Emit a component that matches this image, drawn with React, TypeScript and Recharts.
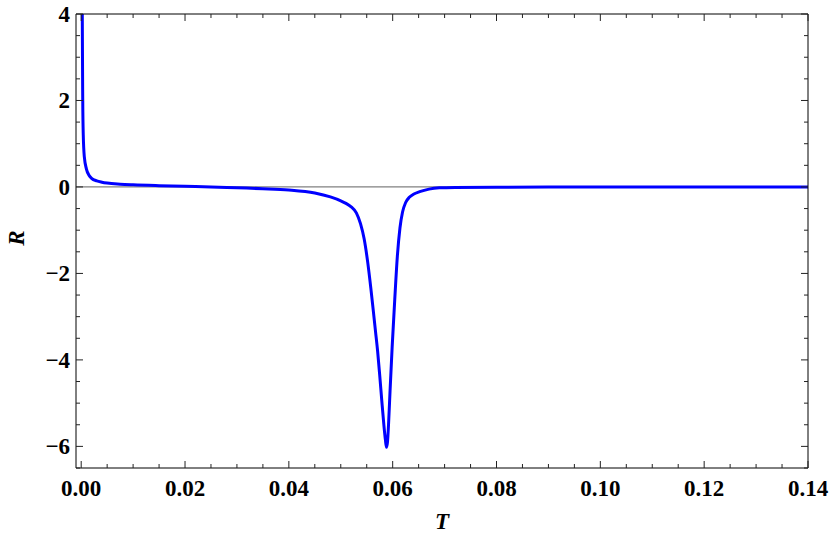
import React from "react";
import { LineChart, Line, XAxis, YAxis, ReferenceLine } from "recharts";

// T values and R
const tValues = [
  0.00015, 0.0002, 0.0003, 0.0004, 0.0006, 0.001, 0.0015, 0.002, 0.003, 0.004,
  0.005, 0.0075, 0.01, 0.015, 0.02, 0.025, 0.03, 0.035, 0.04, 0.045, 0.048,
  0.05, 0.051, 0.052, 0.053, 0.0538, 0.0545, 0.0552, 0.0558, 0.0563, 0.0567,
  0.0571, 0.0575, 0.0579, 0.0583, 0.0586, 0.0588, 0.059, 0.0592, 0.0595,
  0.0599, 0.0604, 0.0609, 0.0614, 0.0619, 0.0625, 0.0632, 0.064, 0.0652,
  0.067, 0.069, 0.072, 0.08, 0.1, 0.12, 0.14,
];
const rValues = [
  8, 4.2, 2.0, 1.2, 0.7, 0.42, 0.27, 0.2, 0.14, 0.11,
  0.09, 0.065, 0.05, 0.03, 0.015, 0.0, -0.02, -0.04, -0.07, -0.14, -0.23,
  -0.32, -0.38, -0.46, -0.6, -0.85, -1.2, -1.75, -2.35, -2.9, -3.35,
  -3.8, -4.35, -4.94, -5.5, -5.85, -6.02, -5.9, -5.5, -4.7,
  -3.7, -2.6, -1.6, -0.95, -0.58, -0.36, -0.24, -0.17, -0.11,
  -0.05, -0.02, -0.01, -0.005, -0.002, 0, 0.001,
];

const xTicks = [
  0, 0.005, 0.01, 0.015, 0.02, 0.025, 0.03, 0.035, 0.04, 0.045, 0.05, 0.055,
  0.06, 0.065, 0.07, 0.075, 0.08, 0.085, 0.09, 0.095, 0.1, 0.105, 0.11, 0.115,
  0.12, 0.125, 0.13, 0.135, 0.14,
];
const yTicks = [
  -6.5, -6, -5.5, -5, -4.5, -4, -3.5, -3, -2.5, -2, -1.5, -1, -0.5, 0, 0.5, 1,
  1.5, 2, 2.5, 3, 3.5, 4,
];
const xMajorStep = 0.02;
const yMajorStep = 2;

const data = tValues.map((t, i) => ({ t, r: rValues[i] }));

const font = "'Liberation Serif', 'Times New Roman', serif";
const isMajor = (v: number, step: number) =>
  Math.abs(v / step - Math.round(v / step)) < 1e-6;

const XTick = (props: any) => {
  const { x, y, payload, side } = props;
  const v = payload.value;
  const major = isMajor(v, xMajorStep);
  const len = major ? 7 : 4;
  const dir = side === "top" ? 1 : -1;
  return (
    <g>
      <line x1={x} x2={x} y1={y} y2={y + dir * len} stroke="#222" strokeWidth={1} />
      {major && side === "bottom" && (
        <text x={x} y={y + 28} textAnchor="middle" fontFamily={font} fontWeight="bold" fontSize={23} fill="#000">
          {v.toFixed(2)}
        </text>
      )}
    </g>
  );
};

const YTick = (props: any) => {
  const { x, y, payload, side } = props;
  const v = payload.value;
  const major = isMajor(v, yMajorStep);
  const len = major ? 7 : 4;
  const dir = side === "left" ? 1 : -1;
  return (
    <g>
      <line x1={x} x2={x + dir * len} y1={y} y2={y} stroke="#222" strokeWidth={1} />
      {major && side === "left" && (
        <text x={x - 6} y={y + 8} textAnchor="end" fontFamily={font} fontWeight="bold" fontSize={23} fill="#000">
          {v < 0 ? "\u2212" + Math.abs(v) : String(v)}
        </text>
      )}
    </g>
  );
};

const xDomain = [-0.001, 0.14];
const yDomain = [-6.5, 4];

export default function App() {
  return (
    <div style={{ position: "absolute", left: 0, top: 0, width: 830, height: 542, background: "#fff" }}>
      <LineChart
        width={830}
        height={542}
        data={data}
        margin={{ top: 10, right: 0, left: 0, bottom: 0 }}
      >
        <XAxis
          xAxisId="b"
          dataKey="t"
          type="number"
          domain={xDomain}
          allowDataOverflow
          ticks={xTicks}
          interval={0}
          height={74}
          tickSize={0}
          tickMargin={0}
          tickLine={false}
          axisLine={{ stroke: "#000", strokeWidth: 1 }}
          tick={<XTick side="bottom" />}
        />
        <XAxis
          xAxisId="t"
          orientation="top"
          dataKey="t"
          type="number"
          domain={xDomain}
          allowDataOverflow
          ticks={xTicks}
          interval={0}
          height={4}
          tickSize={0}
          tickMargin={0}
          tickLine={false}
          axisLine={{ stroke: "#000", strokeWidth: 1 }}
          tick={<XTick side="top" />}
        />
        <YAxis
          yAxisId="l"
          type="number"
          domain={yDomain}
          allowDataOverflow
          ticks={yTicks}
          interval={0}
          width={76}
          tickSize={0}
          tickMargin={0}
          tickLine={false}
          axisLine={{ stroke: "#000", strokeWidth: 1 }}
          tick={<YTick side="left" />}
        />
        <YAxis
          yAxisId="r"
          orientation="right"
          type="number"
          domain={yDomain}
          allowDataOverflow
          ticks={yTicks}
          interval={0}
          width={22}
          tickSize={0}
          tickMargin={0}
          tickLine={false}
          axisLine={{ stroke: "#000", strokeWidth: 1 }}
          tick={<YTick side="right" />}
        />
        <ReferenceLine xAxisId="b" yAxisId="l" y={0} stroke="#808080" strokeWidth={1.2} />
        <Line
          xAxisId="b"
          yAxisId="l"
          dataKey="r"
          type="monotone"
          stroke="#0000ff"
          strokeWidth={3}
          dot={false}
          isAnimationActive={false}
        />
      </LineChart>
      <div
        style={{
          position: "absolute",
          left: 442,
          top: 508,
          transform: "translateX(-50%)",
          fontFamily: font,
          fontWeight: "bold",
          fontStyle: "italic",
          fontSize: 23,
          lineHeight: "28px",
        }}
      >
        T
      </div>
      <div
        style={{
          position: "absolute",
          left: 17,
          top: 238,
          transform: "translate(-50%, -50%) rotate(-90deg)",
          fontFamily: font,
          fontWeight: "bold",
          fontStyle: "italic",
          fontSize: 23,
          lineHeight: "28px",
        }}
      >
        R
      </div>
    </div>
  );
}
